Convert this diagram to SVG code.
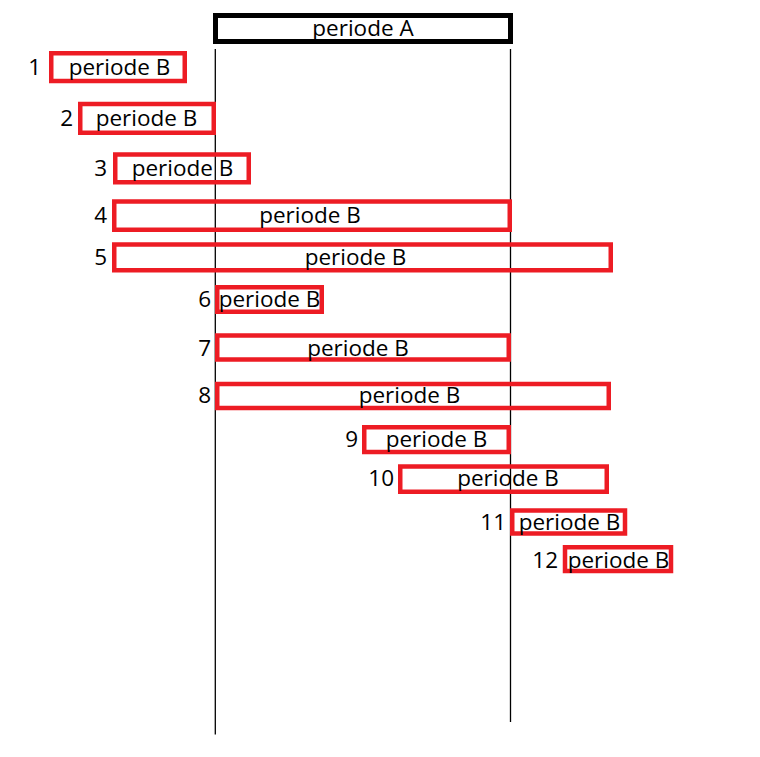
<svg xmlns="http://www.w3.org/2000/svg" width="760" height="757" viewBox="0 0 760 757">
<style>
.bg{fill:#ffffff}
.a{fill:none;stroke:#000000;stroke-width:5}
.b{fill:none;stroke:#ED1C24;stroke-width:4.5}
.t{font-family:"Open Sans","Liberation Sans",sans-serif;font-size:22.5px;fill:#000000;text-anchor:middle}
.n{font-family:"Open Sans","Liberation Sans",sans-serif;font-size:22.5px;fill:#000000;text-anchor:end}
.v{stroke:#000000;stroke-width:1.3;fill:none}
</style>
<rect class="bg" x="0" y="0" width="760" height="757"/>
<g id="connectors">
<line class="v" x1="215.3" y1="49" x2="215.3" y2="734.5"/>
<line class="v" x1="510.5" y1="49" x2="510.5" y2="722"/>
</g>
<g id="periodeA">
<rect class="a" x="215.5" y="15.5" width="295" height="26"/>
<text class="t" x="363" y="36">periode A</text>
</g>
<g id="b1">
<rect class="b" x="51.25" y="53.25" width="133.5" height="27.75"/>
<text class="n" x="41" y="75">1</text>
<text class="t" x="119.5" y="75">periode B</text>
</g>
<g id="b2">
<rect class="b" x="80.25" y="104" width="133.5" height="28.75"/>
<text class="n" x="73" y="125.5">2</text>
<text class="t" x="146.5" y="125.5">periode B</text>
</g>
<g id="b3">
<rect class="b" x="115.25" y="154.5" width="133.5" height="27.75"/>
<text class="n" x="107" y="176">3</text>
<text class="t" x="182.5" y="176">periode B</text>
</g>
<g id="b4">
<rect class="b" x="114.25" y="201.5" width="395.5" height="28.25"/>
<text class="n" x="107" y="222.5">4</text>
<text class="t" x="310" y="222.5">periode B</text>
</g>
<g id="b5">
<rect class="b" x="114.25" y="244.5" width="496.5" height="25.75"/>
<text class="n" x="107" y="265">5</text>
<text class="t" x="355.5" y="265">periode B</text>
</g>
<g id="b6">
<rect class="b" x="217.25" y="287.25" width="104.5" height="24.5"/>
<text class="n" x="211" y="307">6</text>
<text class="t" x="269.5" y="307">periode B</text>
</g>
<g id="b7">
<rect class="b" x="217.25" y="335.5" width="291.5" height="24"/>
<text class="n" x="211" y="356">7</text>
<text class="t" x="358" y="356">periode B</text>
</g>
<g id="b8">
<rect class="b" x="217.25" y="384" width="391.5" height="24"/>
<text class="n" x="211" y="402.5">8</text>
<text class="t" x="409.5" y="402.5">periode B</text>
</g>
<g id="b9">
<rect class="b" x="364.25" y="427.25" width="144.5" height="24.75"/>
<text class="n" x="358" y="447">9</text>
<text class="t" x="436.5" y="447">periode B</text>
</g>
<g id="b10">
<rect class="b" x="400.25" y="466.5" width="206.5" height="25.25"/>
<text class="n" x="394" y="486">10</text>
<text class="t" x="508" y="486">periode B</text>
</g>
<g id="b11">
<rect class="b" x="512.25" y="510.5" width="112.75" height="23"/>
<text class="n" x="506" y="530">11</text>
<text class="t" x="569.5" y="530">periode B</text>
</g>
<g id="b12">
<rect class="b" x="565" y="547.25" width="106" height="23.75"/>
<text class="n" x="558" y="567.5">12</text>
<text class="t" x="618.5" y="567.5">periode B</text>
</g>
</svg>
